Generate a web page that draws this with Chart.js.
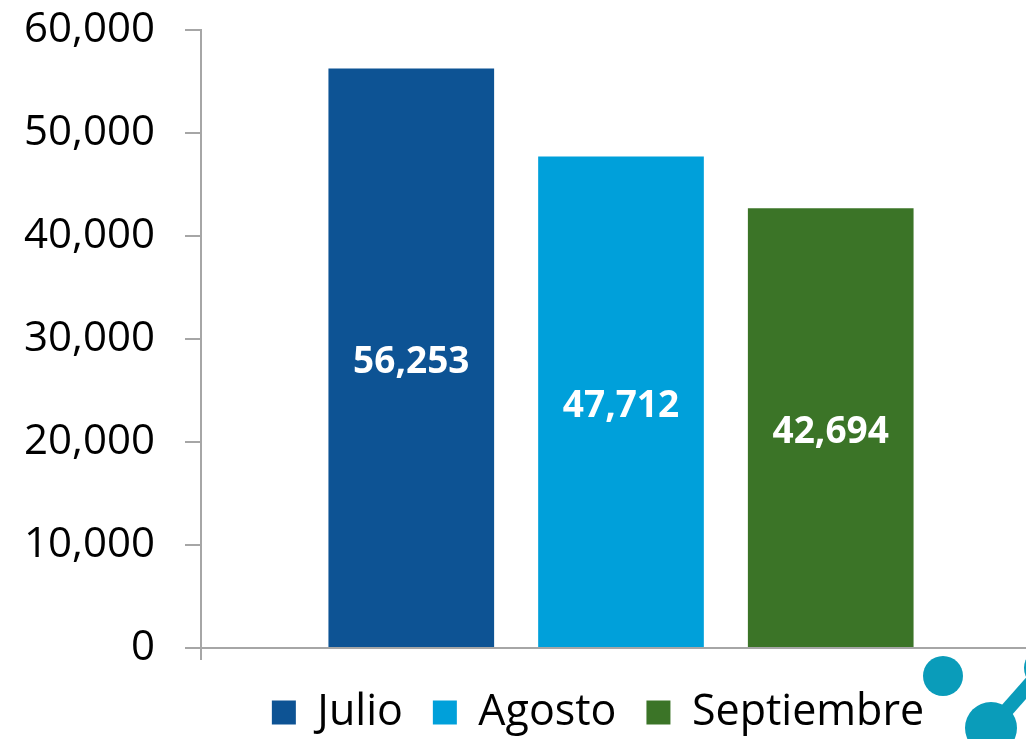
<!DOCTYPE html>
<html>
<head>
<meta charset="utf-8">
<script src="https://cdn.jsdelivr.net/npm/chart.js@4"></script>
<style>
  html, body { margin: 0; padding: 0; background: #fff; overflow: hidden; }
  #wrap { position: relative; width: 1041px; height: 739px; }
</style>
</head>
<body>
<div id="wrap"><canvas id="chart"></canvas></div>
<script>
const months = ["Julio", "Agosto", "Septiembre"];
const values = [56253, 47712, 42694];
const colors = ["#0d5394", "#00a0da", "#3b7427"];
const yTicks = [0, 10000, 20000, 30000, 40000, 50000, 60000];

const fmt = (v) => v.toLocaleString("en-US");
const axisGray = "#a6a6a6";

// white value labels in the middle of each bar
const barLabels = {
  id: "barLabels",
  afterDatasetsDraw(chart) {
    const ctx = chart.ctx;
    ctx.save();
    ctx.fillStyle = "#ffffff";
    ctx.font = "bold 37px 'Open Sans'";
    ctx.textAlign = "center";
    ctx.textBaseline = "middle";
    chart.data.datasets.forEach((ds, i) => {
      const bar = chart.getDatasetMeta(i).data[0];
      ctx.fillText(fmt(ds.data[0]), bar.x, (bar.y + bar.base) / 2 + 5);
    });
    ctx.restore();
  }
};

// nudge the legend to where the reference has it
const legendShift = {
  id: "legendShift",
  afterLayout(chart) {
    chart.legend.left = 155;
    chart.legend.top += 5;
  }
};

// little logo circles in the bottom-right corner
const logo = {
  id: "logo",
  afterDraw(chart) {
    const ctx = chart.ctx;
    ctx.save();
    ctx.fillStyle = "#0a9cba";
    ctx.strokeStyle = "#0a9cba";
    ctx.lineWidth = 14;
    ctx.beginPath();
    ctx.moveTo(991, 728);
    ctx.lineTo(1044, 668);
    ctx.stroke();
    [[943, 676, 20], [991, 728, 26], [1044, 668, 20]].forEach(([x, y, r]) => {
      ctx.beginPath();
      ctx.arc(x, y, r, 0, Math.PI * 2);
      ctx.fill();
    });
    ctx.restore();
  }
};

new Chart(document.getElementById("chart"), {
  type: "bar",
  data: {
    labels: [""],
    datasets: months.map((m, i) => ({
      label: m,
      data: [values[i]],
      backgroundColor: colors[i],
      categoryPercentage: 0.749,
      barPercentage: 0.79
    }))
  },
  options: {
    responsive: true,
    maintainAspectRatio: false,
    animation: false,
    layout: { padding: { top: 0, left: 0, right: 0, bottom: 0 } },
    plugins: {
      tooltip: { enabled: false },
      legend: {
        position: "bottom",
        fullSize: false,
        labels: {
          boxWidth: 24,
          boxHeight: 24,
          padding: 30,
          color: "#000",
          font: { family: "'Open Sans'", size: 43 }
        }
      }
    },
    scales: {
      x: {
        ticks: { display: false },
        afterFit: (scale) => {
          scale.height = 8;
        },
        grid: {
          drawOnChartArea: false,
          drawTicks: true,
          tickLength: 12,
          color: axisGray,
          lineWidth: 2
        },
        border: { color: axisGray, width: 2 }
      },
      y: {
        min: 0,
        max: 60000,
        afterBuildTicks: (scale) => {
          scale.ticks = yTicks.map((v) => ({ value: v }));
        },
        afterFit: (scale) => {
          scale.width = 201;
          scale.paddingTop = 30;
        },
        ticks: {
          padding: 30,
          color: "#000",
          font: { family: "'Open Sans'", size: 42 },
          callback: (v) => fmt(v)
        },
        grid: {
          drawOnChartArea: false,
          drawTicks: true,
          tickLength: 16,
          color: axisGray,
          lineWidth: 2
        },
        border: { color: axisGray, width: 2 }
      }
    }
  },
  plugins: [barLabels, legendShift, logo]
});
</script>
</body>
</html>
